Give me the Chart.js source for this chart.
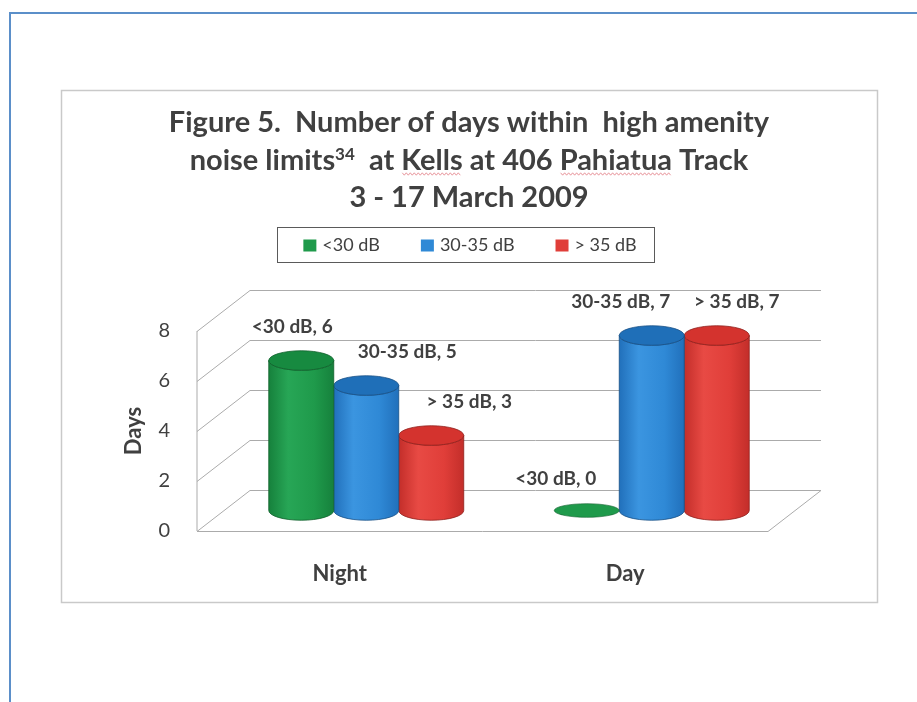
<!DOCTYPE html>
<html>
<head>
<meta charset="utf-8">
<title>Figure 5</title>
<script src="https://cdn.jsdelivr.net/npm/chart.js@4.4.0/dist/chart.umd.min.js"></script>
<style>
  html, body { margin: 0; padding: 0; background: #fff; }
  #wrap { width: 917px; height: 702px; }
</style>
</head>
<body>
<div id="wrap"><canvas id="chart" width="917" height="702"></canvas></div>
<script>
// ── Data ──
const categories  = ['Night', 'Day'];
const seriesNames = ['<30 dB', '30-35 dB', '> 35 dB'];
const below30     = [6, 0];
const from30to35  = [5, 7];
const above35     = [3, 7];
const yTicks      = [0, 2, 4, 6, 8];

// ── Look ──
const INK   = '#404040';
const FONT  = 'Lato, "Open Sans", sans-serif';
const DX = 53, DY = 41;                 // depth of the 3D box (back wall offset)
const COLS = [
  { body: '#1f9a4b', light: '#27a656', dark: '#16813c', top: '#178a40', edge: '#0f5f2b' },
  { body: '#2f89d6', light: '#3b95e0', dark: '#2170bb', top: '#1f6fb8', edge: '#164f85' },
  { body: '#e03e39', light: '#e84a44', dark: '#c32e2a', top: '#d4332e', edge: '#8f1f1c' },
];
// where each value label sits relative to its cylinder top
const labelShift = [
  [[-9, -34], [-31, -32]],
  [[41, -34], [-31, -34]],
  [[38, -34], [20, -34]],
];

const titleLines = [
  [{ t: 'Figure 5.  Number of days within  high amenity' }],
  [{ t: 'noise limits' }, { t: '34', sup: true }, { t: '  at ' }, { t: 'Kells', wavy: true },
   { t: ' at 406 ' }, { t: 'Pahiatua', wavy: true }, { t: ' Track' }],
  [{ t: '3 - 17 March 2009' }],
];

function drawCylinder(ctx, cx, top, base, w, c) {
  const rx = w / 2, ry = w * 0.15;
  const l = cx - rx, r = cx + rx;
  if (base - top < 1) {                    // zero value: just a flat disc
    ctx.beginPath();
    ctx.ellipse(cx, base, rx, ry * 0.7, 0, 0, Math.PI * 2);
    ctx.fillStyle = c.body; ctx.fill();
    ctx.strokeStyle = c.edge; ctx.lineWidth = 0.6; ctx.stroke();
    return;
  }
  const g = ctx.createLinearGradient(l, 0, r, 0);
  g.addColorStop(0, c.dark);
  g.addColorStop(0.3, c.light);
  g.addColorStop(0.7, c.body);
  g.addColorStop(1, c.dark);
  ctx.beginPath();
  ctx.moveTo(l, top);
  ctx.lineTo(l, base);
  ctx.ellipse(cx, base, rx, ry, 0, Math.PI, 0, true);
  ctx.lineTo(r, top);
  ctx.ellipse(cx, top, rx, ry, 0, 0, Math.PI, false);
  ctx.closePath();
  ctx.fillStyle = g; ctx.fill();
  ctx.strokeStyle = c.edge; ctx.lineWidth = 0.8; ctx.stroke();
  ctx.beginPath();
  ctx.ellipse(cx, top, rx, ry, 0, 0, Math.PI * 2);
  ctx.fillStyle = c.top; ctx.fill();
  ctx.stroke();
}

function wavy(ctx, x0, x1, y) {
  ctx.save();
  ctx.strokeStyle = 'rgba(214,70,80,0.55)';
  ctx.lineWidth = 1;
  ctx.beginPath();
  for (let x = x0, i = 0; x <= x1; x += 2, i++) {
    const yy = y + (i % 2 ? 1.2 : -1.2);
    i ? ctx.lineTo(x, yy) : ctx.moveTo(x, yy);
  }
  ctx.stroke();
  ctx.restore();
}

const figure3d = {
  id: 'figure3d',
  beforeDraw(chart) {
    const ctx = chart.ctx;
    ctx.save();
    // page frame + chart frame
    ctx.strokeStyle = '#5b8fc9'; ctx.lineWidth = 2;
    ctx.strokeRect(10, 13, 940, 720);
    ctx.strokeStyle = '#c9c9c9'; ctx.lineWidth = 1.5;
    ctx.strokeRect(61.5, 90.5, 816, 512);
    ctx.restore();
  },
  beforeDatasetsDraw(chart) {
    const ctx = chart.ctx, { left, right } = chart.chartArea;
    const ys = chart.scales.y;
    const y0 = ys.getPixelForValue(0), yTop = ys.getPixelForValue(yTicks[yTicks.length - 1]);
    ctx.save();
    ctx.strokeStyle = '#ababab'; ctx.lineWidth = 1;
    ctx.beginPath();
    // side wall front edge
    ctx.moveTo(left, yTop); ctx.lineTo(left, y0);
    for (const v of yTicks) {
      const y = Math.round(ys.getPixelForValue(v)) + 0.5;
      ctx.moveTo(left, y); ctx.lineTo(left + DX, y - DY);          // side wall
      ctx.lineTo(right + DX, y - DY);                              // back wall
    }
    // floor
    ctx.moveTo(left, Math.round(y0) + 0.5); ctx.lineTo(right, Math.round(y0) + 0.5);
    ctx.lineTo(right + DX, Math.round(y0) + 0.5 - DY);
    ctx.stroke();

    // cylinders, back to front so the left ones overlap
    for (let d = chart.data.datasets.length - 1; d >= 0; d--) {
      const meta = chart.getDatasetMeta(d);
      meta.data.forEach(bar => {
        drawCylinder(ctx, bar.x + DX / 2, bar.y - DY / 2, bar.base - DY / 2, bar.width, COLS[d]);
      });
    }

    // value labels
    ctx.fillStyle = INK;
    ctx.font = `bold 19px ${FONT}`;
    ctx.textAlign = 'center'; ctx.textBaseline = 'middle';
    chart.data.datasets.forEach((ds, d) => {
      chart.getDatasetMeta(d).data.forEach((bar, i) => {
        const [sx, sy] = labelShift[d][i];
        ctx.fillText(`${ds.label}, ${ds.data[i]}`, bar.x + DX / 2 + sx, bar.y - DY / 2 + sy);
      });
    });
    ctx.restore();
    return false;
  },
  afterDraw(chart) {
    const ctx = chart.ctx;
    ctx.save();
    ctx.fillStyle = INK;
    ctx.textBaseline = 'alphabetic';
    ctx.textAlign = 'left';
    // title
    const cx = 469, base = [132, 170, 207];
    const big = `bold 29px ${FONT}`, small = `bold 17px ${FONT}`;
    titleLines.forEach((segs, li) => {
      const widths = segs.map(s => { ctx.font = s.sup ? small : big; return ctx.measureText(s.t).width; });
      let x = cx - widths.reduce((a, b) => a + b, 0) / 2;
      segs.forEach((s, k) => {
        ctx.font = s.sup ? small : big;
        ctx.fillText(s.t, x, base[li] - (s.sup ? 10 : 0));
        if (s.wavy) wavy(ctx, x + 1, x + widths[k] - 1, base[li] + 4);
        x += widths[k];
      });
    });

    // legend
    ctx.font = `18px ${FONT}`;
    const items = chart.data.datasets.map((ds, i) => ({ label: ds.label, color: COLS[i].body, w: ctx.measureText(ds.label).width }));
    const sw = 13, gap = 6, sep = 41, padL = 26, padR = 18;
    const inner = items.reduce((a, it) => a + sw + gap + it.w, 0) + sep * (items.length - 1);
    const bw = inner + padL + padR, bx = 466 - bw / 2, by = 227, bh = 35;
    ctx.strokeStyle = '#5a5a5a'; ctx.lineWidth = 1;
    ctx.strokeRect(Math.round(bx) + 0.5, by + 0.5, Math.round(bw), bh);
    let x = bx + padL;
    const my = by + bh / 2 + 1;
    ctx.textBaseline = 'middle';
    items.forEach(it => {
      ctx.fillStyle = it.color;
      ctx.fillRect(x, my - 6, sw, sw - 1);
      ctx.fillStyle = INK;
      ctx.fillText(it.label, x + sw + gap, my);
      x += sw + gap + it.w + sep;
    });
    ctx.restore();
  },
};

const datasets = [below30, from30to35, above35].map((vals, i) => ({
  label: seriesNames[i],
  data: vals,
  backgroundColor: COLS[i].body,
  barPercentage: 1,
  categoryPercentage: 0.683,
}));

new Chart(document.getElementById('chart'), {
  type: 'bar',
  data: { labels: categories, datasets },
  options: {
    responsive: false,
    devicePixelRatio: 1,
    animation: false,
    layout: { padding: { left: 117, top: 331, right: 149, bottom: 111 } },
    plugins: { legend: { display: false }, title: { display: false }, tooltip: { enabled: false } },
    scales: {
      x: {
        grid: { display: false, drawTicks: false },
        border: { display: false },
        ticks: { color: INK, font: { family: FONT, size: 22, weight: 'bold' }, padding: 30 },
        afterFit: s => { s.height = 60; },
      },
      y: {
        min: 0, max: 8,
        grid: { display: false, drawTicks: false },
        border: { display: false },
        afterBuildTicks: s => { s.ticks = yTicks.map(v => ({ value: v })); },
        ticks: { color: INK, font: { family: FONT, size: 20 }, padding: 27 },
        title: { display: true, text: 'Days', color: INK, font: { family: FONT, size: 22, weight: 'bold' }, padding: { top: 4, bottom: 0 } },
        afterFit: s => { s.width = 80; },
      },
    },
  },
  plugins: [figure3d],
});
</script>
</body>
</html>
